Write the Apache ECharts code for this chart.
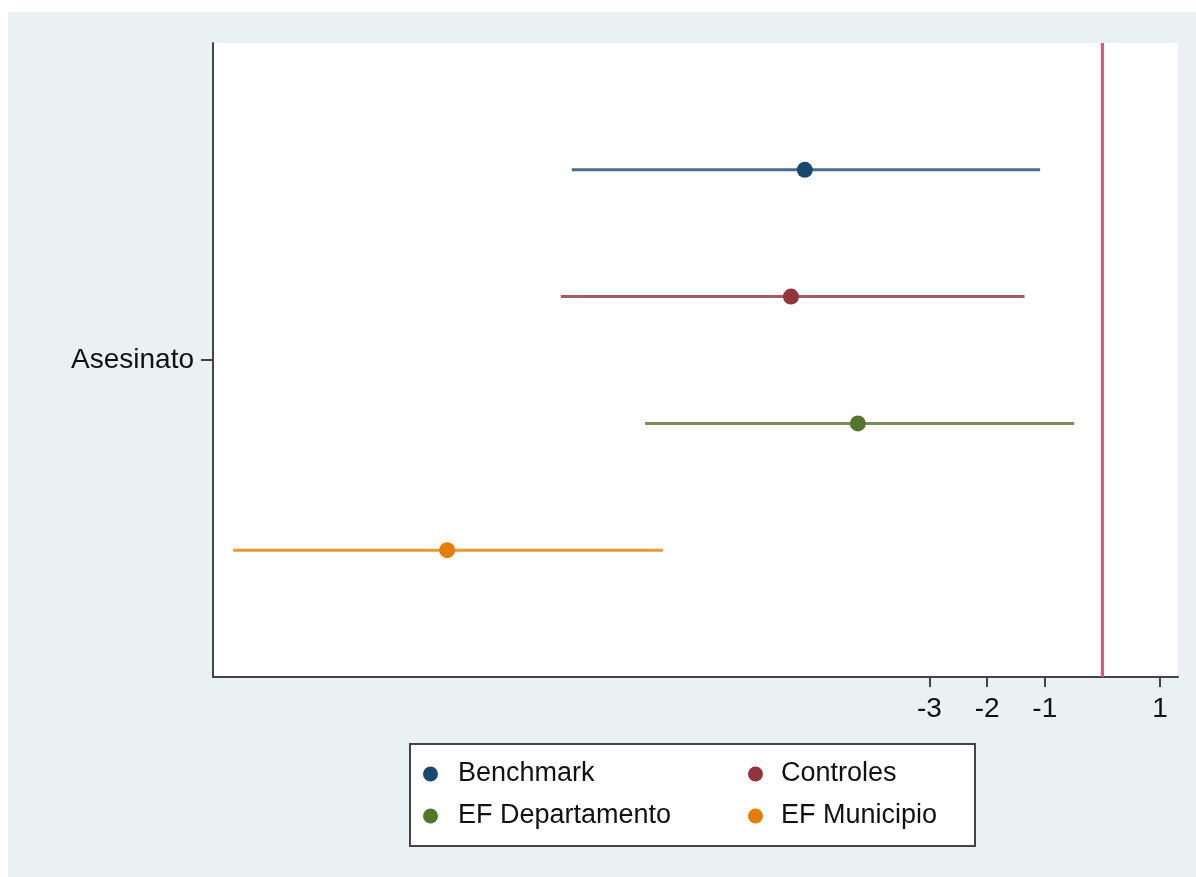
<!DOCTYPE html>
<html>
<head>
<meta charset="utf-8">
<script src="https://cdn.jsdelivr.net/npm/echarts@6/dist/echarts.min.js"></script>
<style>
  html, body { margin: 0; padding: 0; background: #ffffff; width: 1196px; height: 877px; overflow: hidden; }
  #chart { position: absolute; left: 8px; top: 12px; width: 1188px; height: 865px; }
</style>
</head>
<body>
<div id="chart"></div>
<script>
// ---- data ----
const categories = ['Asesinato'];
const seriesNames = ['Benchmark', 'Controles', 'EF Departamento', 'EF Municipio'];
const estimates = [-5.16, -5.40, -4.24, -11.36];
const lowerCI   = [-9.20, -9.39, -7.93, -15.07];
const upperCI   = [-1.08, -1.35, -0.49, -7.62];
const xTicks = [-3, -2, -1, 1];
const xMin = -15.42, xMax = 1.31;
const refLine = 0;

// ---- styles ----
const colors = ['#1a476f', '#90353b', '#55752f', '#e37e00'];
const refColor = '#d9557c';
const FONT = '"Liberation Sans", Arial, Helvetica, sans-serif';

const chart = echarts.init(document.getElementById('chart'), null, { renderer: 'canvas' });

function makeRender(idx) {
  return function (params, api) {
    const est = api.value(0), lo = api.value(1), hi = api.value(2);
    const c = api.coord([est, 0]);
    const band = api.size([0, 1])[1];
    const y = c[1] + (idx - 1.5) * band * 0.2;
    const pLo = api.coord([lo, 0]);
    const pHi = api.coord([hi, 0]);
    return {
      type: 'group',
      children: [
        { type: 'line', shape: { x1: pLo[0], y1: y, x2: pHi[0], y2: y },
          style: { stroke: colors[idx], lineWidth: 3, opacity: 0.8 } },
        { type: 'circle', shape: { cx: c[0], cy: y, r: 8 },
          style: { fill: colors[idx] } }
      ]
    };
  };
}

const series = seriesNames.map((name, i) => ({
  name: name,
  type: 'custom',
  renderItem: makeRender(i),
  itemStyle: { color: colors[i] },
  encode: { x: 0, y: 3 },
  data: [[estimates[i], lowerCI[i], upperCI[i], 0]],
  silent: true,
  z: 5
}));

series.unshift({
  name: 'ref',
  type: 'custom',
  silent: true,
  z: 3,
  encode: { x: 0, y: 1 },
  data: [[refLine, 0]],
  renderItem: function (params, api) {
    const p = api.coord([api.value(0), 0]);
    const cs = params.coordSys;
    return {
      type: 'line',
      shape: { x1: p[0], y1: cs.y, x2: p[0], y2: cs.y + cs.height },
      style: { stroke: refColor, lineWidth: 3 }
    };
  }
});

const option = {
  backgroundColor: '#e9f1f3',
  animation: false,
  grid: {
    left: 205, top: 31, width: 965, bottom: 200,
    show: true, backgroundColor: '#ffffff', borderWidth: 0
  },
  xAxis: {
    type: 'value',
    min: xMin, max: xMax,
    splitLine: { show: false },
    axisLine: { show: true, onZero: false, lineStyle: { color: '#444', width: 2 } },
    axisTick: { show: true, customValues: xTicks, length: 10, lineStyle: { color: '#444', width: 2 } },
    axisLabel: { customValues: xTicks, fontSize: 28, fontFamily: FONT, color: '#111', margin: 18 }
  },
  yAxis: {
    type: 'category',
    data: categories,
    axisLine: { show: true, onZero: false, lineStyle: { color: '#444', width: 2 } },
    axisTick: { show: true, alignWithLabel: true, length: 12, lineStyle: { color: '#444', width: 2 } },
    axisLabel: { fontSize: 28, fontFamily: FONT, color: '#111', margin: 19 },
    splitLine: { show: false }
  },
  graphic: [{
    type: 'rect',
    shape: { x: 402, y: 732, width: 565, height: 102 },
    style: { fill: '#ffffff', stroke: '#444', lineWidth: 2 },
    z: 1
  }],
  legend: [
    {
      data: [seriesNames[0], seriesNames[2]],
      orient: 'vertical', left: 415, top: 748, padding: 0,
      icon: 'circle', itemWidth: 15, itemHeight: 15, itemGap: 14,
      textStyle: { fontSize: 27, fontFamily: FONT, color: '#111', lineHeight: 28, padding: [0, 0, 0, 15] },
      selectedMode: false
    },
    {
      data: [seriesNames[1], seriesNames[3]],
      orient: 'vertical', left: 740, top: 748, padding: 0,
      icon: 'circle', itemWidth: 15, itemHeight: 15, itemGap: 14,
      textStyle: { fontSize: 27, fontFamily: FONT, color: '#111', lineHeight: 28, padding: [0, 0, 0, 13] },
      selectedMode: false
    }
  ],
  series: series
};
chart.setOption(option);
</script>
</body>
</html>
